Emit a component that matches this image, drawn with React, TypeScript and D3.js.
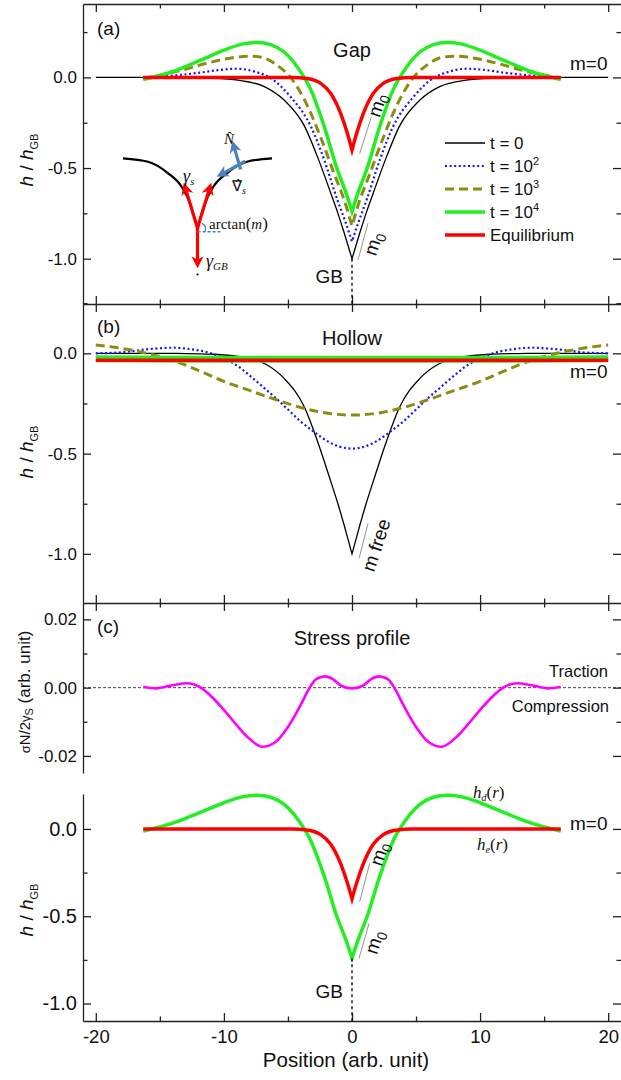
import React, { useEffect, useRef } from 'react';
import * as d3 from 'd3';

// ---- values: position (arb. unit) and h/hGB ----
// (a) Gap
const gapT0X = [-20, -16, -13, -11, -8.9, -6.8, -5.3, -3.7, -2.7, -1.65, -1.1, -0.6, -0.3, 0, 0.3, 0.6, 1.1, 1.65, 2.7, 3.7, 5.3, 6.8, 8.9, 11, 13, 16, 20];
const gapT0Y = [0, 0, -0.001, -0.004, -0.015, -0.052, -0.125, -0.27, -0.437, -0.64, -0.75, -0.86, -0.93, -1.0, -0.93, -0.86, -0.75, -0.64, -0.437, -0.27, -0.125, -0.052, -0.015, -0.004, -0.001, 0, 0];

const gapT2X = [-16.3, -14, -12, -10.5, -9, -7.5, -6.3, -4.8, -3.2, -2.17, -1.14, -0.5, 0, 0.5, 1.14, 2.17, 3.2, 4.8, 6.3, 7.5, 9, 10.5, 12, 14, 16.3];
const gapT2Y = [0, 0.01, 0.025, 0.04, 0.048, 0.03, -0.006, -0.107, -0.272, -0.455, -0.676, -0.8, -0.905, -0.8, -0.676, -0.455, -0.272, -0.107, -0.006, 0.03, 0.048, 0.04, 0.025, 0.01, 0];

const gapT3X = [-16.3, -14.5, -13, -11.5, -10, -9, -8, -7, -5.8, -4.8, -3.7, -2.45, -1.4, -0.5, 0, 0.5, 1.4, 2.45, 3.7, 4.8, 5.8, 7, 8, 9, 10, 11.5, 13, 14.5, 16.3];
const gapT3Y = [-0.005, 0.02, 0.045, 0.075, 0.1, 0.112, 0.117, 0.11, 0.065, 0, -0.125, -0.33, -0.53, -0.7, -0.82, -0.7, -0.53, -0.33, -0.125, 0, 0.065, 0.11, 0.117, 0.112, 0.1, 0.075, 0.045, 0.02, -0.005];

const gapT4X = [-16.3, -15.2, -14.1, -13, -11.5, -10, -8.5, -7.4, -6.3, -5.3, -4.27, -3.2, -2.17, -1.14, -0.5, 0, 0.5, 1.14, 2.17, 3.2, 4.27, 5.3, 6.3, 7.4, 8.5, 10, 11.5, 13, 14.1, 15.2, 16.3];
const gapT4Y = [-0.012, 0.008, 0.03, 0.06, 0.105, 0.15, 0.185, 0.193, 0.18, 0.14, 0.058, -0.07, -0.27, -0.51, -0.63, -0.74, -0.63, -0.51, -0.27, -0.07, 0.058, 0.14, 0.18, 0.193, 0.185, 0.15, 0.105, 0.06, 0.03, 0.008, -0.012];

const gapEqX = [-16.3, -8, -4.7, -3.5, -2.44, -1.66, -0.88, -0.4, 0, 0.4, 0.88, 1.66, 2.44, 3.5, 4.7, 8, 16.3];
const gapEqY = [0, 0, 0, -0.006, -0.033, -0.088, -0.2, -0.3, -0.4, -0.3, -0.2, -0.088, -0.033, -0.006, 0, 0, 0];

// (b) Hollow
const holT2X = [-20, -18, -16, -14, -12.5, -11, -10, -9, -8, -7, -6, -5, -4, -3, -2, -1, 0, 1, 2, 3, 4, 5, 6, 7, 8, 9, 10, 11, 12.5, 14, 16, 18, 20];
const holT2Y = [0, 0.005, 0.02, 0.028, 0.02, 0, -0.025, -0.06, -0.11, -0.165, -0.22, -0.28, -0.34, -0.39, -0.435, -0.465, -0.475, -0.465, -0.435, -0.39, -0.34, -0.28, -0.22, -0.165, -0.11, -0.06, -0.025, 0, 0.02, 0.028, 0.02, 0.005, 0];

const holT3X = [-20, -18, -16, -14, -12, -10, -8, -6, -4, -2, 0, 2, 4, 6, 8, 10, 12, 14, 16, 18, 20];
const holT3Y = [0.042, 0.025, 0, -0.035, -0.085, -0.14, -0.185, -0.23, -0.27, -0.298, -0.308, -0.298, -0.27, -0.23, -0.185, -0.14, -0.085, -0.035, 0, 0.025, 0.042];

const holT4X = [-20, -10, 0, 10, 20];
const holT4Y = [-0.027, -0.03, -0.03, -0.03, -0.027];
const holEqX = [-20, -10, 0, 10, 20];
const holEqY = [-0.035, -0.035, -0.035, -0.035, -0.035];

// (c) Stress profile, sigma_N / 2 gamma_s
const stressX = [-16.3, -15.3, -14, -12.9, -11.8, -11, -10, -9, -8, -7, -6, -5, -4, -3.3, -2.8, -2.1, -1.5, -0.8, 0, 0.8, 1.5, 2.1, 2.8, 3.3, 4, 5, 6, 7, 8, 9, 10, 11, 11.8, 12.9, 14, 15.3, 16.3];
const stressY = [0.0002, -0.0002, 0.0007, 0.0013, 0, -0.0025, -0.0065, -0.011, -0.015, -0.0173, -0.016, -0.0115, -0.005, 0, 0.0025, 0.0033, 0.0025, 0.0005, -0.0002, 0.0005, 0.0025, 0.0033, 0.0025, 0, -0.005, -0.0115, -0.016, -0.0173, -0.015, -0.011, -0.0065, -0.0025, 0, 0.0013, 0.0007, -0.0002, 0.0002];

// inset sketch (unit coords)
const insetX = [-1, -0.664, -0.394, -0.213, -0.101, 0, 0.101, 0.213, 0.394, 0.664, 1];
const insetY = [0, -0.049, -0.214, -0.406, -0.643, -1, -0.643, -0.406, -0.214, -0.049, 0];

const legendLabels = ['t = 0', 't = 10', 't = 10', 't = 10', 'Equilibrium'];
const legendSup = ['', '2', '3', '4', ''];
const xMajor = [-20, -10, 0, 10, 20];
const xMinor = [-15, -5, 5, 15];
const hMajor = [0, -0.5, -1];
const hMinor = [0.25, -0.25, -0.75];
const sMajor = [0.02, 0, -0.02];
const sMinor = [0.01, -0.01];

const SANS = '"Liberation Sans", Arial, Helvetica, sans-serif';
const SERIF = '"Liberation Serif", "Times New Roman", serif';
const W = 621;
const H = 1080;
const X0 = 83;

const STYLE: any = {
  t0: { color: '#000000', width: 1.3 },
  t2: { color: '#1414ff', width: 2.2, dash: '2,2.6' },
  t3: { color: '#8c8c14', width: 3, dash: '9,5' },
  t4: { color: '#22ee22', width: 3.5 },
  eq: { color: '#ff0000', width: 3.5 },
};

export default function App() {
  const ref = useRef<SVGSVGElement | null>(null);

  useEffect(() => {
    const svg = d3.select(ref.current);
    svg.selectAll('*').remove();

    const x = d3.scaleLinear().domain([-21, 21]).range([X0, W]);
    const yA = d3.scaleLinear().domain([-1.25, 0.405]).range([304, 4]);
    const yB = d3.scaleLinear().domain([-1.245, 0.246]).range([603, 304]);
    const yC = d3.scaleLinear().domain([-0.025, 0.0248]).range([773, 603]);
    const yD = d3.scaleLinear().domain([-1.1, 0.2]).range([1021, 794]);

    const curve = (y: any, xs: number[], ys: number[], s: any, cusp = false, width?: number) => {
      const line = d3.line<number[]>().curve(d3.curveMonotoneX).x((d) => x(d[0])).y((d) => y(d[1]));
      const data = xs.map((v, i) => [v, ys[i]]);
      let d = line(data) as string;
      if (cusp) {
        const left = line(data.filter((p) => p[0] <= 0)) as string;
        const right = (line(data.filter((p) => p[0] >= 0)) as string).replace(/^M[^CL]*/, '');
        d = left + right;
      }
      svg.append('path')
        .attr('d', d)
        .attr('fill', 'none')
        .attr('stroke', s.color)
        .attr('stroke-width', width || s.width)
        .attr('stroke-dasharray', s.dash || null)
        .attr('stroke-linejoin', 'miter');
    };

    // ---------- axes ----------
    const tidy = (g: any) => {
      g.selectAll('path, line').attr('stroke', '#222').attr('stroke-width', 1.3);
      g.selectAll('text').attr('font-family', SANS).attr('fill', '#111');
    };

    const yAxes = (y: any, major: number[], minor: number[], fmt: (v: number) => string, size: number) => {
      svg.append('g').attr('transform', `translate(${X0},0)`)
        .call(d3.axisLeft(y).tickValues(major).tickSizeInner(-8).tickSizeOuter(0).tickPadding(6).tickFormat(fmt as any))
        .call(tidy)
        .call((g: any) => g.selectAll('text').attr('font-size', size));
      svg.append('g').attr('transform', `translate(${X0},0)`)
        .call(d3.axisLeft(y).tickValues(minor).tickSize(-4.5).tickFormat(() => ''))
        .call(tidy)
        .call((g: any) => g.select('.domain').remove());
      svg.append('g').attr('transform', `translate(${W},0)`)
        .call(d3.axisRight(y).tickValues(major).tickSize(-8).tickFormat(() => ''))
        .call(tidy)
        .call((g: any) => g.select('.domain').remove());
      svg.append('g').attr('transform', `translate(${W},0)`)
        .call(d3.axisRight(y).tickValues(minor).tickSize(-4.5).tickFormat(() => ''))
        .call(tidy)
        .call((g: any) => g.select('.domain').remove());
    };

    // horizontal frame line with ticks pointing up and/or down
    const xEdge = (yPos: number, up: boolean, down: boolean) => {
      const g = svg.append('g').attr('transform', `translate(0,${yPos})`);
      g.call(d3.axisBottom(x).tickValues([]).tickSizeOuter(0)).call(tidy);
      if (down) {
        g.append('g').call(d3.axisBottom(x).tickValues(xMajor).tickSize(8).tickFormat(() => '')).call(tidy)
          .call((s: any) => s.select('.domain').remove());
        g.append('g').call(d3.axisBottom(x).tickValues(xMinor).tickSize(4.5).tickFormat(() => '')).call(tidy)
          .call((s: any) => s.select('.domain').remove());
      }
      if (up) {
        g.append('g').call(d3.axisTop(x).tickValues(xMajor).tickSize(8).tickFormat(() => '')).call(tidy)
          .call((s: any) => s.select('.domain').remove());
        g.append('g').call(d3.axisTop(x).tickValues(xMinor).tickSize(4.5).tickFormat(() => '')).call(tidy)
          .call((s: any) => s.select('.domain').remove());
      }
    };

    const f1 = (v: number) => v.toFixed(1);
    const f2 = (v: number) => v.toFixed(2);
    yAxes(yA, hMajor, hMinor, f1, 17);
    yAxes(yB, hMajor, hMinor, f1, 17);
    yAxes(yC, sMajor, sMinor, f2, 17);
    yAxes(yD, hMajor, [-0.25, -0.75], f1, 20);

    xEdge(4, false, true);
    xEdge(304, true, true);
    xEdge(603, true, true);

    // bottom axis with labels
    svg.append('g').attr('transform', 'translate(0,1021)')
      .call(d3.axisBottom(x).tickValues(xMajor).tickSizeInner(-8).tickSizeOuter(0).tickPadding(9).tickFormat((d: any) => String(d)))
      .call(tidy)
      .call((g: any) => g.selectAll('text').attr('font-size', 18.5));
    svg.append('g').attr('transform', 'translate(0,1021)')
      .call(d3.axisBottom(x).tickValues(xMinor).tickSize(-4.5).tickFormat(() => ''))
      .call(tidy)
      .call((g: any) => g.select('.domain').remove());

    // ---------- text helpers ----------
    const text = (tx: number, ty: number, s: string, size: number, anchor = 'start', family = SANS) =>
      svg.append('text').attr('x', tx).attr('y', ty).attr('font-family', family).attr('font-size', size)
        .attr('text-anchor', anchor).attr('fill', '#111').text(s);

    const hTitle = (cy: number) => {
      const t = svg.append('text').attr('transform', `translate(33,${cy}) rotate(-90)`)
        .attr('text-anchor', 'middle').attr('font-family', SANS).attr('font-size', 19).attr('fill', '#111');
      t.append('tspan').attr('font-style', 'italic').text('h');
      t.append('tspan').text(' / ');
      t.append('tspan').attr('font-style', 'italic').text('h');
      t.append('tspan').attr('font-size', 11).attr('dy', 5).text('GB');
    };

    const slopeLabel = (y: any, line: number[][], pos: number[], main: string, sub: string) => {
      svg.append('line')
        .attr('x1', x(line[0][0])).attr('y1', y(line[0][1]))
        .attr('x2', x(line[1][0])).attr('y2', y(line[1][1]))
        .attr('stroke', '#777').attr('stroke-width', 0.8);
      const t = svg.append('text')
        .attr('transform', `translate(${x(pos[0])},${y(pos[1])}) rotate(-72)`)
        .attr('text-anchor', 'middle').attr('y', 6)
        .attr('font-family', SANS).attr('font-size', 19).attr('fill', '#111');
      t.append('tspan').text(main);
      if (sub) t.append('tspan').attr('font-size', 14).attr('dy', 4).text(sub);
    };

    // ---------- panel (a) Gap ----------
    curve(yA, gapT0X, gapT0Y, STYLE.t0, true);
    curve(yA, gapT2X, gapT2Y, STYLE.t2, true);
    curve(yA, gapT3X, gapT3Y, STYLE.t3, true);
    curve(yA, gapT4X, gapT4Y, STYLE.t4, true);
    curve(yA, gapEqX, gapEqY, STYLE.eq, true);

    svg.append('line').attr('x1', x(0)).attr('x2', x(0)).attr('y1', yA(-1)).attr('y2', 304)
      .attr('stroke', '#000').attr('stroke-width', 1.3).attr('stroke-dasharray', '3,3');
    text(97, 35, '(a)', 19);
    text(x(0), 57, 'Gap', 20, 'middle');
    text(570, 70, 'm=0', 19);
    text(343, 283, 'GB', 19, 'end');
    slopeLabel(yA, [[0.6, -0.42], [1.5, -0.22]], [2.0, -0.153], 'm', '0');
    slopeLabel(yA, [[0.47, -1.006], [1.25, -0.804]], [1.7, -0.917], 'm', '0');

    // legend
    const legendKeys = ['t0', 't2', 't3', 't4', 'eq'];
    legendKeys.forEach((k, i) => {
      const ly = 143 + i * 23;
      const s = STYLE[k];
      svg.append('line').attr('x1', 445).attr('x2', 485).attr('y1', ly).attr('y2', ly)
        .attr('stroke', s.color).attr('stroke-width', s.width).attr('stroke-dasharray', s.dash || null);
      const t = text(490, ly + 6, legendLabels[i], 17);
      if (legendSup[i]) t.append('tspan').attr('font-size', 11).attr('dy', -7).text(legendSup[i]);
    });

    // inset sketch
    const ix = d3.scaleLinear().domain([-1, 1]).range([123, 272]);
    const iy = d3.scaleLinear().domain([-1, 0]).range([228.3, 158.3]);
    const iLine = d3.line<number[]>().curve(d3.curveMonotoneX).x((d) => ix(d[0])).y((d) => iy(d[1]));
    const iData = insetX.map((v, i) => [v, insetY[i]]);
    svg.append('path')
      .attr('d', (iLine(iData.filter((p) => p[0] <= 0)) as string) + (iLine(iData.filter((p) => p[0] >= 0)) as string).replace(/^M[^CL]*/, ''))
      .attr('fill', 'none').attr('stroke', '#000').attr('stroke-width', 2.2);

    const defs = svg.append('defs');
    const marker = (id: string, color: string) => defs.append('marker').attr('id', id)
      .attr('viewBox', '0 0 10 10').attr('refX', 7).attr('refY', 5)
      .attr('markerWidth', 3.8).attr('markerHeight', 3.8).attr('orient', 'auto')
      .append('path').attr('d', 'M0,0 L10,5 L0,10 L3,5 z').attr('fill', color);
    marker('arrRed', '#ff0000');
    marker('arrBlue', '#4f81bd');

    const arrow = (from: number[], to: number[], color: string, id: string) =>
      svg.append('line').attr('x1', ix(from[0])).attr('y1', iy(from[1])).attr('x2', ix(to[0])).attr('y2', iy(to[1]))
        .attr('stroke', color).attr('stroke-width', 3.2).attr('marker-end', `url(#${id})`);
    arrow([0, -1], [-0.17, -0.4], '#ff0000', 'arrRed');
    arrow([0, -1], [0.17, -0.4], '#ff0000', 'arrRed');
    arrow([0, -1], [0, -1.52], '#ff0000', 'arrRed');
    arrow([0.58, -0.16], [0.48, 0.2], '#4f81bd', 'arrBlue');
    arrow([0.64, -0.04], [0.3, -0.24], '#4f81bd', 'arrBlue');

    svg.append('line').attr('x1', ix(0)).attr('x2', ix(0.31)).attr('y1', iy(-1.05)).attr('y2', iy(-1.05))
      .attr('stroke', '#4f81bd').attr('stroke-width', 1.5).attr('stroke-dasharray', '3,2');
    svg.append('path').attr('d', `M${ix(0.1)},${iy(-1.05)} A6,6 0 0 0 ${ix(0.06)},${iy(-0.93)}`)
      .attr('fill', 'none').attr('stroke', '#4f81bd').attr('stroke-width', 1.3);
    svg.append('circle').attr('cx', ix(0)).attr('cy', iy(-1.66)).attr('r', 1.1).attr('fill', '#000');

    const g1 = text(183, 182, '', 18, 'start', SERIF);
    g1.append('tspan').attr('font-style', 'italic').text('γ');
    g1.append('tspan').attr('font-style', 'italic').attr('font-size', 11).attr('dy', 3).text('s');
    const g2 = text(206, 267, '', 18, 'start', SERIF);
    g2.append('tspan').attr('font-style', 'italic').text('γ');
    g2.append('tspan').attr('font-style', 'italic').attr('font-size', 11).attr('dy', 3).text('GB');
    text(224, 144, 'N\u0302', 15, 'start', SERIF).attr('font-style', 'italic');
    const g3 = text(232, 191, '\u2207\u0302', 15, 'start', SERIF);
    g3.append('tspan').attr('font-style', 'italic').attr('font-size', 10).attr('dy', 3).text('s');
    const g4 = text(209, 229, 'arctan', 15, 'start', SERIF);
    g4.append('tspan').attr('font-size', 17).text('(');
    g4.append('tspan').attr('font-style', 'italic').text('m');
    g4.append('tspan').attr('font-size', 17).text(')');

    // ---------- panel (b) Hollow ----------
    curve(yB, gapT0X, gapT0Y, STYLE.t0, true);
    curve(yB, holT2X, holT2Y, STYLE.t2);
    curve(yB, holT3X, holT3Y, STYLE.t3);
    curve(yB, holT4X, holT4Y, STYLE.t4, false, 7);
    curve(yB, holEqX, holEqY, STYLE.eq);
    text(97, 333, '(b)', 19);
    text(x(0), 345, 'Hollow', 20, 'middle');
    text(570, 378, 'm=0', 19);
    slopeLabel(yB, [[0.55, -1.023], [1.25, -0.848]], [1.93, -0.957], 'm free', '');

    // ---------- panel (c) Stress ----------
    svg.append('line').attr('x1', X0).attr('x2', W).attr('y1', yC(0)).attr('y2', yC(0))
      .attr('stroke', '#333').attr('stroke-width', 0.9).attr('stroke-dasharray', '3,2');
    curve(yC, stressX, stressY, { color: '#ff00ff', width: 2.6 });
    text(97, 633, '(c)', 19);
    text(x(0), 645, 'Stress profile', 20, 'middle');
    text(608, 677, 'Traction', 16.5, 'end');
    text(609, 712, 'Compression', 16.5, 'end');
    const st = svg.append('text').attr('transform', 'translate(30,692) rotate(-90)')
      .attr('text-anchor', 'middle').attr('font-family', SANS).attr('font-size', 16).attr('fill', '#111');
    st.append('tspan').attr('font-size', 13).text('σ');
    st.append('tspan').attr('font-size', 15).text('N/2');
    st.append('tspan').attr('font-size', 13).text('γ');
    st.append('tspan').attr('font-size', 11).attr('dy', 3).text('S');
    st.append('tspan').attr('font-size', 17).attr('dy', -3).text('  (arb. unit)');

    // ---------- panel (d) ----------
    curve(yD, gapT4X, gapT4Y, STYLE.t4, true);
    curve(yD, gapEqX, gapEqY, STYLE.eq, true);
    svg.append('line').attr('x1', x(0)).attr('x2', x(0)).attr('y1', yD(-0.74)).attr('y2', 1021)
      .attr('stroke', '#000').attr('stroke-width', 1.3).attr('stroke-dasharray', '3,3');
    text(570, 830, 'm=0', 19);
    text(343, 998, 'GB', 19, 'end');
    slopeLabel(yD, [[0.6, -0.417], [1.38, -0.197]], [2.16, -0.143], 'm', '0');
    slopeLabel(yD, [[0.55, -0.741], [1.33, -0.541]], [1.77, -0.648], 'm', '0');
    const hd = text(473, 798, '', 17, 'start', SERIF);
    hd.append('tspan').attr('font-style', 'italic').text('h');
    hd.append('tspan').attr('font-style', 'italic').attr('font-size', 10).attr('dy', 3).text('d');
    hd.append('tspan').attr('dy', -3).text('(');
    hd.append('tspan').attr('font-style', 'italic').text('r');
    hd.append('tspan').text(')');
    const he = text(477, 850, '', 17, 'start', SERIF);
    he.append('tspan').attr('font-style', 'italic').text('h');
    he.append('tspan').attr('font-style', 'italic').attr('font-size', 10).attr('dy', 3).text('e');
    he.append('tspan').attr('dy', -3).text('(');
    he.append('tspan').attr('font-style', 'italic').text('r');
    he.append('tspan').text(')');

    hTitle(160);
    hTitle(452);
    hTitle(910);
    text(346, 1067, 'Position (arb. unit)', 20.5, 'middle');
  }, []);

  return (
    <svg
      ref={ref}
      width={W}
      height={H}
      style={{ position: 'absolute', left: 0, top: 0, background: '#fff' }}
    />
  );
}
